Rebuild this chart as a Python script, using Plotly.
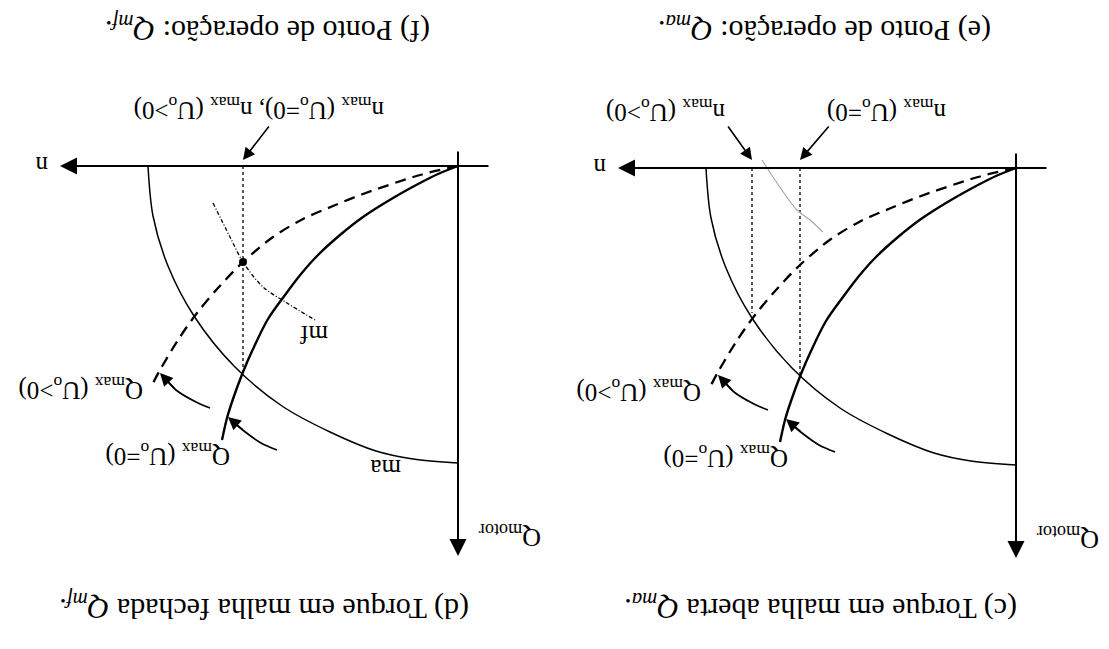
import plotly.graph_objects as go

# ---- characteristic curves, speed n vs motor torque Q (units: px-scale) ----
# open-loop torque limit "ma"
ma_n = [310, 305, 290, 264, 224, 176, 128, 82, 45, 0]
ma_Q = [0, 50, 100, 150, 200, 240, 266, 285, 293, 297]
# Qmax with Uo = 0 (solid)
qmax0_n = [0, 20, 38, 65, 95, 118, 140, 157, 173, 190, 205, 215, 225, 231, 236]
qmax0_Q = [0, 8, 17, 32, 51, 69, 89, 108, 129, 153, 183, 206, 233, 252, 274]
# Qmax with Uo > 0 (dashed)
qmaxp_n = [0, 38, 95, 125, 155, 185, 215, 240, 261, 280, 298, 306]
qmaxp_Q = [0, 9, 28, 40, 53, 71, 96, 122, 147, 174, 204, 219]
# closed-loop torque "mf" (dash-dot) and its operating point
mf_n = [245, 228, 215, 195, 171, 143]
mf_Q = [37, 71, 96, 121, 137, 154]
op_n = [215]
op_Q = [96]

# speed limits
nmax_closed = 215               # both limits coincide in closed loop
nmax_open_u0 = 216
nmax_open_up = 264
dot_end_closed = 207
dot_end_u0 = 207
dot_end_up = 145

# curved pointer arrows toward the Qmax curves
arr0_n = [181, 197, 214, 230]
arr0_Q = [284, 277, 265, 251]
arrp_n = [248, 262, 282, 298]
arrp_Q = [242, 236, 224, 207]

# pencil stroke on the open-loop panel
pencil_n = [254, 239, 219, 206, 193]
pencil_Q = [-8, 15, 42, 52, 64]

# axis extents
n_axis = [-32, 398]
Q_axis = [-16, 390]

FONT = "Liberation Serif"

fig = go.Figure()

panels = [
    dict(xa="x", ya="y", xr=[458, -82], yr=[483, -166], dom=[0, 540 / 1109]),
    dict(xa="x2", ya="y2", xr=[476, -93], yr=[481, -168], dom=[540 / 1109, 1]),
]


def line(p, xs, ys, width, dash="solid", color="black", shape="spline"):
    fig.add_trace(go.Scatter(
        x=xs, y=ys, mode="lines", xaxis=p["xa"], yaxis=p["ya"],
        line=dict(color=color, width=width, dash=dash, shape=shape, smoothing=0.9),
        hoverinfo="skip", showlegend=False))


def arrow(p, x, y, ax, ay, width=1.5, size=1.0):
    fig.add_annotation(
        x=x, y=y, ax=ax, ay=ay, xref=p["xa"], yref=p["ya"],
        axref=p["xa"], ayref=p["ya"], text="", showarrow=True,
        arrowhead=2, arrowsize=size, arrowwidth=width, arrowcolor="black",
        standoff=0, startstandoff=0)


def label(p, x, y, text, size=25):
    fig.add_annotation(
        x=x, y=y, xref=p["xa"], yref=p["ya"], text=text, showarrow=False,
        textangle=180, font=dict(family=FONT, size=size, color="black"))


for i, p in enumerate(panels):
    # axes with arrow tips
    arrow(p, n_axis[1], 0, n_axis[0], 0, width=2, size=1.7)
    arrow(p, 0, Q_axis[1], 0, Q_axis[0], width=2, size=1.7)
    label(p, 416, 0, "n", 25)
    label(p, -52, 370, "Q<sub>motor</sub>", 26)

    # curves
    line(p, ma_n, ma_Q, 1.5)
    line(p, qmax0_n, qmax0_Q, 2.4)
    line(p, qmaxp_n, qmaxp_Q, 2.3, dash="11px,7px")

    # pointers to the Qmax curves
    line(p, arr0_n[:-1] + [arr0_n[-1] - 3], arr0_Q[:-1] + [arr0_Q[-1] + 3], 1.7)
    arrow(p, arr0_n[-1], arr0_Q[-1], arr0_n[-2], arr0_Q[-2], width=1.7, size=1.5)
    line(p, arrp_n[:-1] + [arrp_n[-1] - 3], arrp_Q[:-1] + [arrp_Q[-1] + 3], 1.7)
    arrow(p, arrp_n[-1], arrp_Q[-1], arrp_n[-2], arrp_Q[-2], width=1.7, size=1.5)
    label(p, 290, 289, "Q<sub>max</sub> (U<sub>o</sub>=0)")
    label(p, 377, 223, "Q<sub>max</sub> (U<sub>o</sub>&gt;0)")

    if i == 0:
        # closed loop
        line(p, [nmax_closed, nmax_closed], [0, dot_end_closed], 1.3, dash="dot", shape="linear")
        line(p, mf_n, mf_Q, 1.3, dash="4px,2px,1px,2px")
        fig.add_trace(go.Scatter(
            x=op_n, y=op_Q, mode="markers", xaxis=p["xa"], yaxis=p["ya"],
            marker=dict(color="black", size=8), hoverinfo="skip", showlegend=False))
        label(p, 144, 169, "mf")
        label(p, 72, 303, "ma")
        arrow(p, 215, -6, 188, -41, width=1.6, size=1.5)
        label(p, 199, -57, "n<sub>max</sub> (U<sub>o</sub>=0), n<sub>max</sub> (U<sub>o</sub>&gt;0)")
        label(p, 190, -137, "(f) Ponto de operação: <i>Q<sub>mf</sub></i>.", 30)
        label(p, 194, 441, "(d) Torque em malha fechada <i>Q<sub>mf</sub></i>.", 30)
    else:
        # open loop
        line(p, [nmax_open_u0, nmax_open_u0], [0, dot_end_u0], 1.3, dash="dot", shape="linear")
        line(p, [nmax_open_up, nmax_open_up], [0, dot_end_up], 1.3, dash="dot", shape="linear")
        line(p, pencil_n, pencil_Q, 1.2, color="#a8a8a8")
        arrow(p, 264, -8, 289, -43, width=1.6, size=1.5)
        arrow(p, 216, -8, 186, -43, width=1.6, size=1.5)
        label(p, 350, -57, "n<sub>max</sub> (U<sub>o</sub>&gt;0)")
        label(p, 129, -57, "n<sub>max</sub> (U<sub>o</sub>=0)")
        label(p, 191, -139, "(e) Ponto de operação: <i>Q<sub>ma</sub></i>.", 30)
        label(p, 195, 439, "(c) Torque em malha aberta <i>Q<sub>ma</sub></i>.", 30)

ax_common = dict(visible=False, showgrid=False, zeroline=False, fixedrange=True)
fig.update_layout(
    width=1109, height=649,
    margin=dict(l=0, r=0, t=0, b=0),
    paper_bgcolor="white", plot_bgcolor="white",
    xaxis=dict(domain=panels[0]["dom"], range=panels[0]["xr"], anchor="y", **ax_common),
    yaxis=dict(domain=[0, 1], range=panels[0]["yr"], anchor="x", **ax_common),
    xaxis2=dict(domain=panels[1]["dom"], range=panels[1]["xr"], anchor="y2", **ax_common),
    yaxis2=dict(domain=[0, 1], range=panels[1]["yr"], anchor="x2", **ax_common),
)

fig.write_html("out.html")
